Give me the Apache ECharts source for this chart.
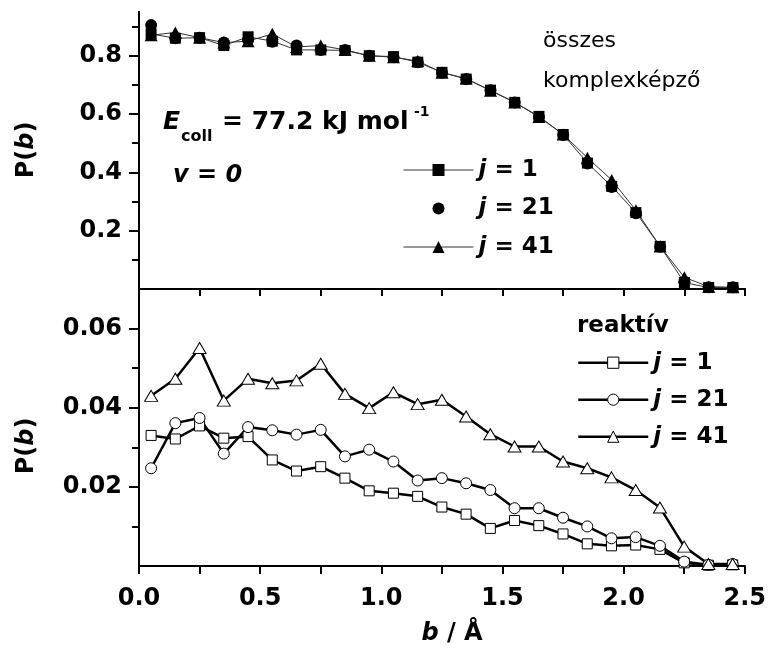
<!DOCTYPE html>
<html>
<head>
<meta charset="utf-8">
<script src="https://cdn.jsdelivr.net/npm/echarts@6/dist/echarts.min.js"></script>
<style>
html,body{margin:0;padding:0;background:#fff;}
#chart{width:769px;height:649px;}
</style>
</head>
<body>
<div id="chart"></div>
<script>
// impact parameter b / Å
const bValues = [0.05,0.15,0.25,0.35,0.45,0.55,0.65,0.75,0.85,0.95,1.05,1.15,1.25,1.35,1.45,1.55,1.65,1.75,1.85,1.95,2.05,2.15,2.25,2.35,2.45];

// upper panel: összes komplexképző
const allJ1  = [0.875,0.860,0.862,0.835,0.865,0.850,0.820,0.820,0.818,0.800,0.797,0.778,0.743,0.720,0.682,0.640,0.592,0.530,0.432,0.352,0.262,0.146,0.022,0.005,0.005];
const allJ21 = [0.905,0.860,0.862,0.845,0.855,0.848,0.835,0.820,0.820,0.800,0.795,0.778,0.742,0.720,0.682,0.640,0.590,0.528,0.430,0.350,0.260,0.145,0.025,0.006,0.006];
const allJ41 = [0.870,0.880,0.862,0.845,0.850,0.875,0.830,0.835,0.820,0.800,0.795,0.782,0.742,0.722,0.680,0.640,0.590,0.530,0.450,0.374,0.270,0.146,0.040,0.008,0.006];

// lower panel: reaktív
const reaJ1  = [0.0330,0.0321,0.0354,0.0323,0.0327,0.0268,0.0240,0.0251,0.0222,0.0190,0.0184,0.0176,0.0149,0.0131,0.0095,0.0115,0.0102,0.0081,0.0056,0.0051,0.0053,0.0042,0.0008,0.0002,0.0003];
const reaJ21 = [0.0247,0.0361,0.0374,0.0284,0.0351,0.0343,0.0332,0.0344,0.0277,0.0294,0.0264,0.0216,0.0222,0.0209,0.0192,0.0146,0.0146,0.0122,0.0100,0.0070,0.0073,0.0051,0.0011,0.0003,0.0005];
const reaJ41 = [0.0430,0.0473,0.0551,0.0418,0.0473,0.0462,0.0469,0.0511,0.0435,0.0399,0.0439,0.0409,0.0420,0.0378,0.0333,0.0302,0.0302,0.0264,0.0247,0.0224,0.0192,0.0148,0.0049,0.0005,0.0005];

// ticks
const xLabelTicks = [0,0.5,1,1.5,2,2.5];
const xQuarterTicks = [0.25,0.5,0.75,1,1.25,1.5,1.75,2,2.25,2.5];
const topMajorTicks = [0.2,0.4,0.6,0.8];
const topMinorTicks = [0.1,0.3,0.5,0.7,0.9];
const topAllTicks = [0.1,0.2,0.3,0.4,0.5,0.6,0.7,0.8,0.9];
const botMajorTicks = [0.02,0.04,0.06];
const botMinorTicks = [0.01,0.03,0.05];
const botAllTicks = [0.01,0.02,0.03,0.04,0.05,0.06];

const legendLabels = {
  all_j1: '{i|j} = 1', all_j21: '{i|j} = 21', all_j41: '{i|j} = 41',
  rea_j1: '{i|j} = 1', rea_j21: '{i|j} = 21', rea_j41: '{i|j} = 41'
};

const FONT = 'DejaVu Sans';
const pairs = arr => bValues.map((b, i) => [b, arr[i]]);

const lineAx = {show: true, lineStyle: {color: '#000', width: 2}};
const labelStyle = {color: '#000', fontFamily: FONT, fontWeight: 'bold', fontSize: 24};

const hiddenX = g => ({type: 'value', gridIndex: g, min: 0, max: 2.5, show: false});

const chart = echarts.init(document.getElementById('chart'), null, {renderer: 'canvas'});

const legendText = {
  color: '#000', fontFamily: FONT, fontWeight: 'bold', fontSize: 23, lineHeight: 24,
  rich: {i: {fontFamily: FONT, fontWeight: 'bold', fontStyle: 'italic', fontSize: 23, lineHeight: 24, color: '#000'}}
};

chart.setOption({
  animation: false,
  backgroundColor: '#fff',
  grid: [
    {left: 139, top: 12, width: 606, height: 277},
    {left: 139, top: 12, width: 606, height: 277},
    {left: 139, top: 289, width: 606, height: 277},
    {left: 139, top: 289, width: 606, height: 277}
  ],
  xAxis: [
    {type: 'value', gridIndex: 0, min: 0, max: 2.5, position: 'bottom', axisLine: lineAx,
     axisTick: {show: false}, axisLabel: {show: false}, splitLine: {show: false}},
    {type: 'value', gridIndex: 0, min: 0, max: 2.5, position: 'top', axisLine: lineAx,
     axisTick: {show: true, inside: true, length: 7, customValues: xQuarterTicks, lineStyle: {color: '#000', width: 2}},
     axisLabel: {show: false}, splitLine: {show: false}},
    hiddenX(1),
    {type: 'value', gridIndex: 2, min: 0, max: 2.5, position: 'bottom', axisLine: lineAx,
     axisTick: {show: true, length: 8, customValues: xQuarterTicks.concat([0]), lineStyle: {color: '#000', width: 2}},
     axisLabel: Object.assign({customValues: xLabelTicks, margin: 21, formatter: v => v.toFixed(1)}, labelStyle),
     splitLine: {show: false}},
    {type: 'value', gridIndex: 2, min: 0, max: 2.5, position: 'top', axisLine: lineAx,
     axisTick: {show: true, inside: true, length: 8, customValues: xQuarterTicks, lineStyle: {color: '#000', width: 2}},
     axisLabel: {show: false}, splitLine: {show: false}},
    hiddenX(3)
  ],
  yAxis: [
    {type: 'value', gridIndex: 0, min: 0, max: 0.95, position: 'left', axisLine: lineAx,
     axisTick: {show: true, length: 10, customValues: topMajorTicks, lineStyle: {color: '#000', width: 2}},
     axisLabel: Object.assign({customValues: topMajorTicks, margin: 17, formatter: v => v.toFixed(1)}, labelStyle),
     splitLine: {show: false}},
    {type: 'value', gridIndex: 0, min: 0, max: 0.95, position: 'right', axisLine: lineAx,
     axisTick: {show: true, inside: true, length: 7, customValues: topAllTicks, lineStyle: {color: '#000', width: 2}},
     axisLabel: {show: false}, splitLine: {show: false}},
    {type: 'value', gridIndex: 1, min: 0, max: 0.95, position: 'left', axisLine: {show: false},
     axisTick: {show: true, length: 5, customValues: topMinorTicks, lineStyle: {color: '#000', width: 2}},
     axisLabel: {show: false}, splitLine: {show: false}},
    {type: 'value', gridIndex: 2, min: 0, max: 0.07, position: 'left', axisLine: lineAx,
     axisTick: {show: true, length: 10, customValues: botMajorTicks, lineStyle: {color: '#000', width: 2}},
     axisLabel: Object.assign({customValues: botMajorTicks, margin: 17, formatter: v => v.toFixed(2)}, labelStyle),
     splitLine: {show: false}},
    {type: 'value', gridIndex: 2, min: 0, max: 0.07, position: 'right', axisLine: lineAx,
     axisTick: {show: true, inside: true, length: 7, customValues: botAllTicks, lineStyle: {color: '#000', width: 2}},
     axisLabel: {show: false}, splitLine: {show: false}},
    {type: 'value', gridIndex: 3, min: 0, max: 0.07, position: 'left', axisLine: {show: false},
     axisTick: {show: true, length: 5, customValues: botMinorTicks, lineStyle: {color: '#000', width: 2}},
     axisLabel: {show: false}, splitLine: {show: false}}
  ],
  legend: [
    {data: ['all_j1', 'all_j21', 'all_j41'], orient: 'vertical', left: 403, top: 158, padding: 0,
     itemWidth: 70, itemHeight: 15, itemGap: 14.5, selectedMode: false,
     formatter: n => legendLabels[n], textStyle: legendText,
     lineStyle: {width: 'inherit'}, itemStyle: {borderWidth: 'inherit'}},
    {data: ['rea_j1', 'rea_j21', 'rea_j41'], orient: 'vertical', left: 577, top: 350.7, padding: 0,
     itemWidth: 70, itemHeight: 14, itemGap: 13, selectedMode: false,
     formatter: n => legendLabels[n], textStyle: legendText,
     lineStyle: {width: 'inherit'}, itemStyle: {borderWidth: 'inherit'}}
  ],
  series: [
    {name: 'all_j1', type: 'line', xAxisIndex: 0, yAxisIndex: 0, data: pairs(allJ1),
     symbol: 'rect', symbolSize: 11, showAllSymbol: true,
     itemStyle: {color: '#000'}, lineStyle: {color: '#333', width: 1}},
    {name: 'all_j21', type: 'line', xAxisIndex: 0, yAxisIndex: 0, data: pairs(allJ21),
     symbol: 'circle', symbolSize: 12, showAllSymbol: true,
     itemStyle: {color: '#000'}, lineStyle: {color: '#333', width: 0, opacity: 0}},
    {name: 'all_j41', type: 'line', xAxisIndex: 0, yAxisIndex: 0, data: pairs(allJ41),
     symbol: 'triangle', symbolSize: [13, 12], showAllSymbol: true,
     itemStyle: {color: '#000'}, lineStyle: {color: '#333', width: 1}},
    {name: 'rea_j1', type: 'line', xAxisIndex: 3, yAxisIndex: 3, data: pairs(reaJ1),
     symbol: 'rect', symbolSize: 10, showAllSymbol: true,
     itemStyle: {color: '#fff', borderColor: '#000', borderWidth: 1}, lineStyle: {color: '#000', width: 2.5}},
    {name: 'rea_j21', type: 'line', xAxisIndex: 3, yAxisIndex: 3, data: pairs(reaJ21),
     symbol: 'circle', symbolSize: 11, showAllSymbol: true,
     itemStyle: {color: '#fff', borderColor: '#000', borderWidth: 1}, lineStyle: {color: '#000', width: 2.5}},
    {name: 'rea_j41', type: 'line', xAxisIndex: 3, yAxisIndex: 3, data: pairs(reaJ41),
     symbol: 'triangle', symbolSize: [13, 11], showAllSymbol: true,
     itemStyle: {color: '#fff', borderColor: '#000', borderWidth: 1}, lineStyle: {color: '#000', width: 2.5}}
  ],
  graphic: [
    {type: 'text', x: 27, y: 150, rotation: Math.PI / 2,
     style: {text: 'P({i|b})', fill: '#000', font: 'bold 24px "DejaVu Sans"', align: 'center', verticalAlign: 'middle',
             rich: {i: {fontStyle: 'italic', fontWeight: 'bold', fontSize: 24, fontFamily: FONT}}}},
    {type: 'text', x: 27, y: 446, rotation: Math.PI / 2,
     style: {text: 'P({i|b})', fill: '#000', font: 'bold 24px "DejaVu Sans"', align: 'center', verticalAlign: 'middle',
             rich: {i: {fontStyle: 'italic', fontWeight: 'bold', fontSize: 24, fontFamily: FONT}}}},
    {type: 'text', x: 452, y: 634,
     style: {text: '{i|b} / Å', fill: '#000', font: 'bold 24px "DejaVu Sans"', align: 'center', verticalAlign: 'middle',
             rich: {i: {fontStyle: 'italic', fontWeight: 'bold', fontSize: 24, fontFamily: FONT}}}},
    {type: 'text', x: 163, y: 122.6,
     style: {text: 'E', fill: '#000', font: 'italic bold 25px "DejaVu Sans"', align: 'left', verticalAlign: 'middle'}},
    {type: 'text', x: 181, y: 137,
     style: {text: 'coll', fill: '#000', font: 'bold 16px "DejaVu Sans"', align: 'left', verticalAlign: 'middle'}},
    {type: 'text', x: 222, y: 122.6,
     style: {text: '= 77.2 kJ mol', fill: '#000', font: 'bold 25px "DejaVu Sans"', align: 'left', verticalAlign: 'middle'}},
    {type: 'text', x: 414, y: 112,
     style: {text: '-1', fill: '#000', font: 'bold 14px "DejaVu Sans"', align: 'left', verticalAlign: 'middle'}},
    {type: 'text', x: 173, y: 176,
     style: {text: 'v = 0', fill: '#000', font: 'italic bold 24px "DejaVu Sans"', align: 'left', verticalAlign: 'middle'}},
    {type: 'text', x: 543, y: 41,
     style: {text: 'összes', fill: '#000', font: '22px "DejaVu Sans"', align: 'left', verticalAlign: 'middle'}},
    {type: 'text', x: 543, y: 81,
     style: {text: 'komplexképző', fill: '#000', font: '22px "DejaVu Sans"', align: 'left', verticalAlign: 'middle'}},
    {type: 'text', x: 577, y: 326.5,
     style: {text: 'reaktív', fill: '#000', font: 'bold 23px "DejaVu Sans"', align: 'left', verticalAlign: 'middle'}}
  ]
});
</script>
</body>
</html>
